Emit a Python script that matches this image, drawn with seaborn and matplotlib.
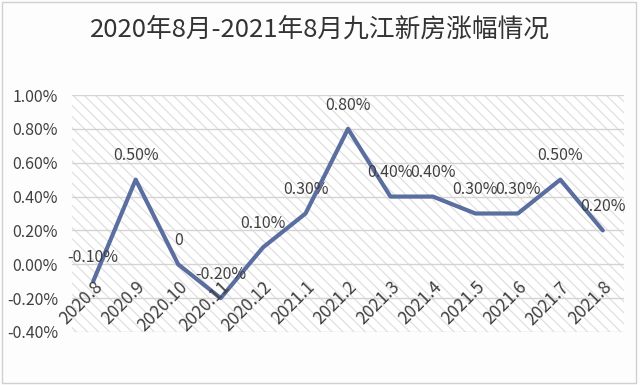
import matplotlib
matplotlib.use("Agg")
import matplotlib.pyplot as plt
import seaborn as sns
import pandas as pd
from matplotlib.patches import Rectangle

months = ["2020.8", "2020.9", "2020.10", "2020.11", "2020.12", "2021.1", "2021.2",
          "2021.3", "2021.4", "2021.5", "2021.6", "2021.7", "2021.8"]
values = [-0.10, 0.50, 0.00, -0.20, 0.10, 0.30, 0.80, 0.40, 0.40, 0.30, 0.30, 0.50, 0.20]
labels = ["-0.10%", "0.50%", "0", "-0.20%", "0.10%", "0.30%", "0.80%",
          "0.40%", "0.40%", "0.30%", "0.30%", "0.50%", "0.20%"]
yticks = [-0.40, -0.20, 0.00, 0.20, 0.40, 0.60, 0.80, 1.00]
title = "2020年8月-2021年8月九江新房涨幅情况"

sns.set_theme(style="white")
plt.rcParams['font.family'] = ['Noto Sans CJK SC', 'DejaVu Sans']
plt.rcParams['hatch.linewidth'] = 0.9

df = pd.DataFrame({"month": months, "value": values, "x": range(len(months))})

fig = plt.figure(figsize=(6.4, 3.85), dpi=100)
fig.patch.set_facecolor('#fdfdfd')
ax = fig.add_axes([72/640, 1-332/385, (624-72)/640, (332-95)/385])
ax.set_xlim(-0.5, len(months) - 0.5)
ax.set_ylim(-0.40, 1.00)
ax.set_facecolor('white')

ax.add_patch(Rectangle((0, 0), 1, 1, transform=ax.transAxes, facecolor='white',
                       edgecolor='#e2dfdf', linewidth=0, hatch='\\\\\\', zorder=0))
for t in yticks:
    ax.axhline(t, color='#d6d3d3', lw=1.0, zorder=1)

sns.lineplot(data=df, x="x", y="value", ax=ax, color='#5a6e9f', linewidth=3,
             zorder=3, legend=False)

for i, (v, lab) in enumerate(zip(values, labels)):
    ax.annotate(lab, (i, v), xytext=(0, 11), textcoords='offset points',
                ha='center', va='bottom', fontsize=11.5, color='#404040', zorder=4)
    ax.annotate(months[i], (i, 0), xytext=(0, -10), textcoords='offset points',
                ha='right', va='top', rotation=45, rotation_mode='anchor',
                fontsize=12.5, color='#404040', zorder=4)

ax.set_xticks([])
ax.set_yticks(yticks)
ax.set_yticklabels([f"{t:.2f}%" for t in yticks], fontsize=11.5, color='#404040')
ax.tick_params(axis='y', length=0, pad=10)
ax.set_xlabel("")
ax.set_ylabel("")
for s in ax.spines.values():
    s.set_visible(False)

fig.text(0.5, 1-30/385, title, ha='center', va='center', fontsize=18.5, color='#333333')
fig.add_artist(Rectangle((0.003, 0.005), 0.99, 0.99, transform=fig.transFigure,
                         fill=False, edgecolor='#d0d0d0', lw=1))

fig.savefig("out.png", dpi=100, facecolor=fig.get_facecolor())
